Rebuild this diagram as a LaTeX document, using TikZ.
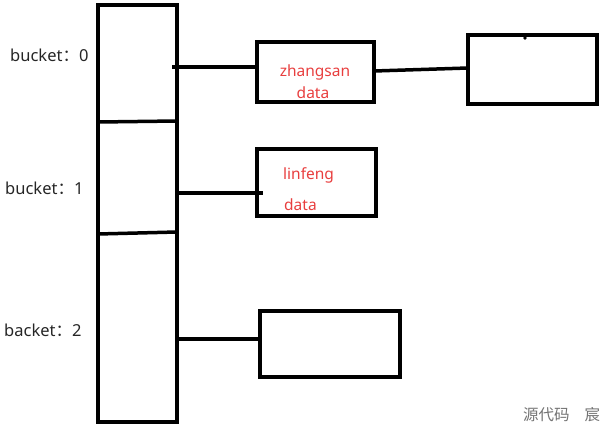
\documentclass[tikz,border=0pt]{standalone}
\usepackage{fontspec}
\setmainfont{Noto Sans}
\newfontfamily\cjk{Noto Sans CJK SC}
\definecolor{redtxt}{RGB}{232,62,62}
\definecolor{graytxt}{RGB}{115,115,115}
\begin{document}
\begin{tikzpicture}[x=1pt,y=-1pt,
  cell/.style={draw=black,line width=4pt,minimum width=#1,inner sep=0pt,fill=none},
  link/.style={draw=black,line width=3.5pt},
  lbl/.style={font=\fontsize{16.5}{18}\selectfont,text=black!85,inner sep=0pt},
  rtx/.style={font=\fontsize{15.5}{18}\selectfont,text=redtxt,inner sep=0pt}]
\useasboundingbox (0,0) rectangle (614,434);
% column
\node[cell=79pt,minimum height=417pt] (col) at (137.5,213.5) {};
\coordinate (d1l) at (98,122); \coordinate (d1r) at (177,121);
\coordinate (d2l) at (98,234); \coordinate (d2r) at (177,232);
\draw[link] (d1l) -- (d1r);
\draw[link] (d2l) -- (d2r);
% labels
\node[lbl,anchor=west] (b0) at (10,55) {bucket{\cjk ：}0};
\node[lbl,anchor=west] (b1) at (5,188) {bucket{\cjk ：}1};
\node[lbl,anchor=west] (b2) at (4,330) {backet{\cjk ：}2};
% boxes
\node[cell=117pt,minimum height=60pt] (z) at (315.5,72) {};
\node[cell=129pt,minimum height=69pt] (r) at (532.5,69.5) {};
\node[cell=119pt,minimum height=67pt] (l) at (316.5,182.5) {};
\node[cell=140pt,minimum height=66pt] (e) at (330,344) {};
% texts
\node[rtx] (zt) at (315,72) {zhangsan};
\node[rtx] (zd) at (313,93) {data};
\node[rtx,anchor=west] (lt) at (283,175) {linfeng};
\node[rtx,anchor=west] (ld) at (284,205) {data};
% connectors
\coordinate (c0) at (172,67);
\draw[link] (c0) -- (z.west |- c0);
\coordinate (c1) at (374,71);
\coordinate (c1b) at (468,68);
\draw[link] (c1) -- (c1b);
\fill (525,38) circle (1.8pt);
\draw[link] (col.east |- l.west) ++(0,10.5) -- ++(84,0);
\draw[link] (col.east |- e.west) ++(0,-5) -- (e.west |- 0,339);
% watermark
\node[font=\cjk\fontsize{15.5}{17}\selectfont,text=graytxt,anchor=west,inner sep=0pt] (wm) at (523,415) {源代码\hspace{15pt}宸};
\end{tikzpicture}
\end{document}
